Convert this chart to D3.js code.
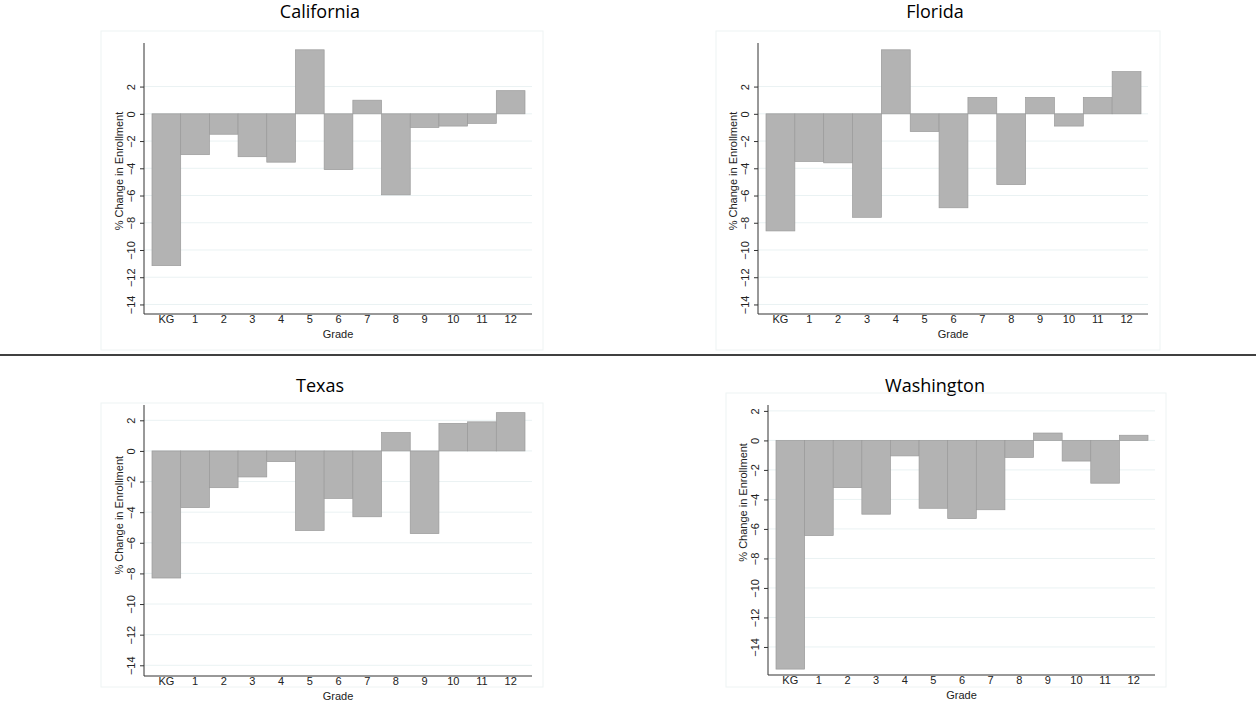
<!DOCTYPE html>
<html lang="en">
<head>
<meta charset="UTF-8">
<title>% Change in Enrollment by Grade</title>
<style>
  body { margin: 0; background: #fff; }
  text { font-family: "Liberation Sans", Arial, sans-serif; }
</style>
</head>
<body>
<script src="https://d3js.org/d3.v7.min.js"></script>
<script>
const grades = ["KG", "1", "2", "3", "4", "5", "6", "7", "8", "9", "10", "11", "12"];
const yTicks = [-14, -12, -10, -8, -6, -4, -2, 0, 2];

const california = [-11.15, -3.0, -1.5, -3.15, -3.55, 4.7, -4.1, 1.0, -5.95, -1.0, -0.9, -0.7, 1.7];
const florida    = [-8.6, -3.5, -3.6, -7.6, 4.7, -1.3, -6.9, 1.2, -5.2, 1.2, -0.9, 1.2, 3.1];
const texas      = [-8.3, -3.7, -2.4, -1.7, -0.7, -5.2, -3.1, -4.3, 1.2, -5.4, 1.8, 1.9, 2.5];
const washington = [-15.5, -6.45, -3.2, -5.0, -1.05, -4.6, -5.3, -4.7, -1.15, 0.5, -1.4, -2.9, 0.35];

// panel layout: frame box, axis box and y domain
const panels = [
  { name: "California", values: california, frame: [101, 31, 543, 350], plot: [144, 43, 532, 314], dom: [-14.7, 5.2], tx: 320, ty: 18 },
  { name: "Florida",    values: florida,    frame: [716, 31, 1160, 350], plot: [758, 43, 1148, 314], dom: [-14.7, 5.2], tx: 935, ty: 18 },
  { name: "Texas",      values: texas,      frame: [101, 403, 543, 687], plot: [144, 405, 532, 676], dom: [-14.7, 3.0], tx: 320, ty: 392 },
  { name: "Washington", values: washington, frame: [726, 393, 1166, 687], plot: [768, 405, 1155, 675], dom: [-15.9, 2.4], tx: 935, ty: 392 }
];

const svg = d3.select("body").append("svg")
  .attr("width", 1256).attr("height", 719);

// separator between rows
svg.append("line").attr("x1", 0).attr("x2", 1256).attr("y1", 355).attr("y2", 355)
  .attr("stroke", "#000").attr("stroke-width", 1.5);

panels.forEach(p => {
  const g = svg.append("g");
  const [fx0, fy0, fx1, fy1] = p.frame;
  const [px0, py0, px1, py1] = p.plot;

  g.append("text").attr("x", p.tx).attr("y", p.ty)
    .attr("text-anchor", "middle")
    .style("font-family", "'Open Sans', 'Noto Sans', sans-serif")
    .style("font-size", "18px").text(p.name);

  g.append("rect").attr("x", fx0).attr("y", fy0)
    .attr("width", fx1 - fx0).attr("height", fy1 - fy0)
    .attr("fill", "none").attr("stroke", "#eef3f3");

  const x = d3.scaleBand().domain(grades).range([px0 + 8, px1 - 7]).padding(0);
  const y = d3.scaleLinear().domain(p.dom).range([py1, py0]);

  // gridlines
  g.selectAll(".grid").data(yTicks).join("line")
    .attr("x1", px0).attr("x2", px1)
    .attr("y1", d => y(d)).attr("y2", d => y(d))
    .attr("stroke", "#eaf2f3");

  g.selectAll(".bar").data(p.values).join("rect")
    .attr("x", (d, i) => x(grades[i]))
    .attr("width", x.bandwidth())
    .attr("y", d => y(Math.max(0, d)))
    .attr("height", d => Math.abs(y(d) - y(0)))
    .attr("fill", "#b3b3b3").attr("stroke", "#9a9a9a").attr("stroke-width", 0.7);

  const yAxis = g.append("g").attr("transform", `translate(${px0},0)`)
    .call(d3.axisLeft(y).tickValues(yTicks).tickSize(4).tickSizeOuter(0));
  yAxis.select(".domain").attr("d", `M0,${py0}V${py1}`).attr("stroke", "#333");
  yAxis.selectAll(".tick line").attr("stroke", "#333");
  yAxis.selectAll(".tick text")
    .attr("x", 0).attr("dy", 0)
    .attr("transform", "translate(-9,0) rotate(-90)")
    .attr("text-anchor", "middle")
    .style("font-size", "11px").attr("fill", "#222");

  const xAxis = g.append("g").attr("transform", `translate(0,${py1})`)
    .call(d3.axisBottom(x).tickSize(0).tickSizeOuter(0));
  xAxis.select(".domain").attr("d", `M${px0},0H${px1}`).attr("stroke", "#333");
  xAxis.selectAll(".tick text").attr("dy", "0.5em").style("font-size", "11px").attr("fill", "#222");

  g.append("text").attr("x", (px0 + px1) / 2).attr("y", py1 + 24)
    .attr("text-anchor", "middle").style("font-size", "11px").attr("fill", "#222").text("Grade");

  g.append("text")
    .attr("transform", `translate(${px0 - 21},${y(-4.2)}) rotate(-90)`)
    .attr("text-anchor", "middle").style("font-size", "11px").attr("fill", "#222")
    .text("% Change in Enrollment");
});
</script>
</body>
</html>
